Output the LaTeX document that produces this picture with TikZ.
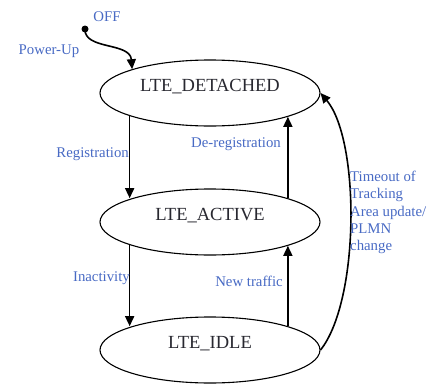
\documentclass[tikz,border=0pt]{standalone}
\usepackage{fontspec}
\setmainfont{Liberation Serif}
\usepackage{tikz}
\usetikzlibrary{arrows.meta,shapes.geometric}
\definecolor{lblue}{RGB}{72,106,196}
\definecolor{statetxt}{RGB}{40,40,48}

\begin{document}
\begin{tikzpicture}[x=1pt,y=-1pt,
    state/.style={ellipse, draw, line width=1.1pt, minimum width=220pt, minimum height=66pt,
        inner sep=0pt, text height=13pt, text depth=17pt,
        font=\fontsize{18.5}{22}\selectfont, text=statetxt},
    lbl/.style={text=lblue, font=\fontsize{14.8}{17.3}\selectfont, inner sep=0pt},
    trans/.style={-{Triangle[length=10pt,width=9pt]}, line width=1.6pt}]
    \useasboundingbox (0,0) rectangle (431,383);

    \node[state] (detached) at (210,93) {LTE\_DETACHED};
    \node[state] (active) at (210,222) {LTE\_ACTIVE};
    \node[state] (idle) at (210,350) {LTE\_IDLE};

    \node[circle, fill, inner sep=0pt, minimum size=7pt] (off) at (85,29) {};
    \node[lbl] (offlbl) at (107,17) {OFF};
    \node[lbl] (poweruplbl) at (49,51) {Power-Up};

    \draw[trans] (off.center) .. controls (84,50) and (130,42) .. (detached.163.4);

    \draw[trans] (detached.196.6) -- (detached.196.6 |- active.163.4);
    \draw[trans] (active.17.8) -- (active.17.8 |- detached.-17.8);
    \draw[trans] (active.196.6) -- (active.196.6 |- idle.163.4);
    \draw[trans] (idle.17.8) -- (idle.17.8 |- active.-17.8);
    \draw[trans] (idle.east) .. controls (360,300) and (360,140) .. (detached.east);

    \node[lbl, anchor=east] (reglbl) at (129,154) {Registration};
    \node[lbl, anchor=east] (dereglbl) at (281,144) {De-registration};
    \node[lbl, anchor=east] (inactlbl) at (130,278) {Inactivity};
    \node[lbl, anchor=east] (trafficlbl) at (283,281) {New traffic};
    \node[lbl, anchor=north west, align=left] (timeoutlbl) at (350,171)
        {Timeout of\\Tracking\\Area update/\\PLMN\\change};
\end{tikzpicture}
\end{document}
